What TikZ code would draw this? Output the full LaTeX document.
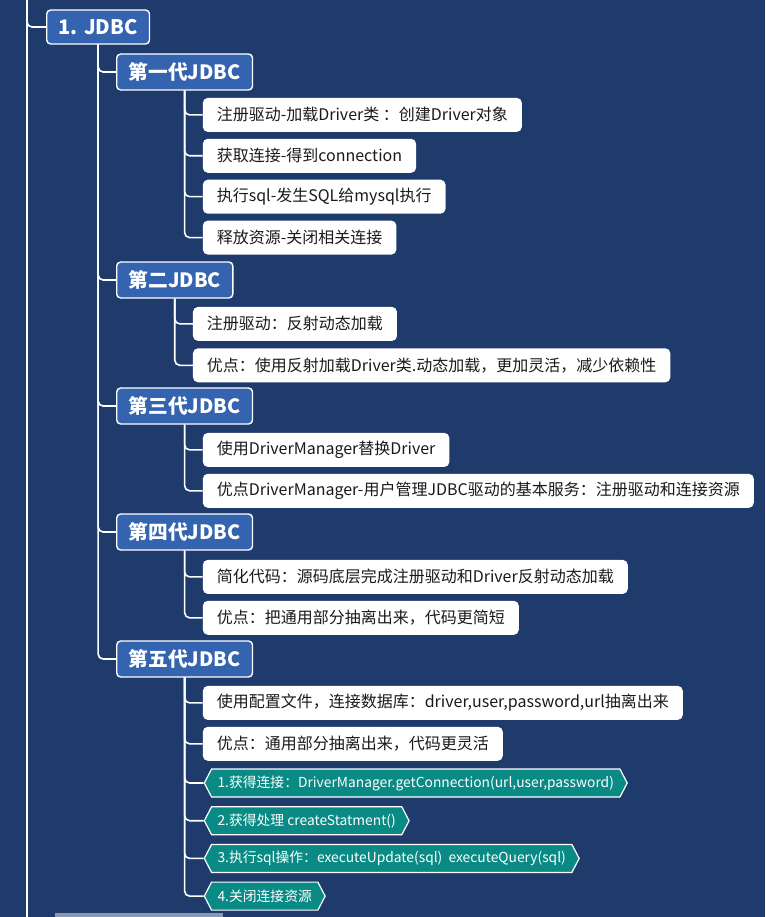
\documentclass[tikz,border=0pt]{standalone}
\usepackage{fontspec}
\setmainfont{Noto Sans CJK SC}
\usetikzlibrary{positioning,calc,shapes.symbols}
\definecolor{cBg}{HTML}{1F3B6C}
\definecolor{cGen}{HTML}{3464AF}
\definecolor{cStep}{HTML}{0A8A84}
\definecolor{cInk}{HTML}{1A1A1A}
\definecolor{cStrip}{HTML}{8A9AB4}

\begin{document}
\begin{tikzpicture}[x=1pt,y=1pt,
    rootbox/.style={draw=white,line width=1.4pt,fill=cGen,rounded corners=4pt,text=white,
      font=\fontsize{20}{24}\selectfont\bfseries,minimum height=34pt,inner xsep=12pt,inner ysep=0pt},
    genbox/.style={rootbox,font=\fontsize{19.7}{23}\selectfont\bfseries,minimum height=36pt},
    leafbox/.style={fill=white,rounded corners=5pt,text=cInk,font=\fontsize{16}{19}\selectfont,
      minimum height=34pt,inner xsep=14pt,inner ysep=0pt},
    stepbox/.style={signal,signal to=west and east,signal pointer angle=125,draw=white,
      line width=1.2pt,fill=cStep,text=white,font=\fontsize{13.8}{16}\selectfont,
      minimum height=28pt,inner xsep=6pt,inner ysep=0pt},
    link/.style={draw=white,line width=1.6pt,rounded corners=5pt},
    node distance=6.5pt]
  \fill[cBg] (0,0) rectangle (765,-917);
  \useasboundingbox (0,0) rectangle (765,-917);
  \coordinate (trunk) at (27,0);
  \coordinate (trunkend) at (27,-917);
  \draw[white,line width=1.6pt] (trunk) -- (trunkend);
  \fill[cStrip] (55,-913) rectangle (223,-917);

  % root and generations
  \node[rootbox,anchor=west] (jdbc) at (46,-27) {1. JDBC};
  \node[genbox,anchor=west] (g1) at (116,-72) {第一代JDBC};
  \node[genbox,anchor=west] (g2) at (116,-280) {第二JDBC};
  \node[genbox,anchor=west] (g3) at (116,-406) {第三代JDBC};
  \node[genbox,anchor=west] (g4) at (116,-532) {第四代JDBC};
  \node[genbox,anchor=west] (g5) at (116,-659) {第五代JDBC};

  % first generation
  \node[leafbox,anchor=north west] (a1) at ($(g1.south)+(18,-7)$) {注册驱动-加载Driver类 ：创建Driver对象};
  \node[leafbox,below=6.5pt of a1.south west,anchor=north west] (a2) {获取连接-得到connection};
  \node[leafbox,below=6.5pt of a2.south west,anchor=north west] (a3) {执行sql-发生SQL给mysql执行};
  \node[leafbox,below=6.5pt of a3.south west,anchor=north west] (a4) {释放资源-关闭相关连接};

  % second generation
  \node[leafbox,anchor=north west] (b1) at ($(g2.south)+(18,-8)$) {注册驱动：反射动态加载};
  \node[leafbox,below=7pt of b1.south west,anchor=north west] (b2) {优点：使用反射加载Driver类.动态加载，更加灵活，减少依赖性};

  % third generation
  \node[leafbox,anchor=north west] (c1) at ($(g3.south)+(18,-8)$) {使用DriverManager替换Driver};
  \node[leafbox,below=6.5pt of c1.south west,anchor=north west] (c2) {优点DriverManager-用户管理JDBC驱动的基本服务：注册驱动和连接资源};

  % fourth generation
  \node[leafbox,anchor=north west] (d1) at ($(g4.south)+(18,-9)$) {简化代码：源码底层完成注册驱动和Driver反射动态加载};
  \node[leafbox,below=6.5pt of d1.south west,anchor=north west] (d2) {优点：把通用部分抽离出来，代码更简短};

  % fifth generation
  \node[leafbox,anchor=north west] (e1) at ($(g5.south)+(18,-8)$) {使用配置文件，连接数据库：driver,user,password,url抽离出来};
  \node[leafbox,below=6.5pt of e1.south west,anchor=north west] (e2) {优点：通用部分抽离出来，代码更灵活};
  \node[stepbox,anchor=west] (s1) at ($(e2.south west)+(1,-22)$) {1.获得连接：DriverManager.getConnection(url,user,password)};
  \node[stepbox,anchor=west] (s2) at ($(s1.west)+(0,-37.7)$) {2.获得处理 createStatment()};
  \node[stepbox,anchor=west] (s3) at ($(s2.west)+(0,-37.7)$) {3.执行sql操作：executeUpdate(sql)\ \ executeQuery(sql)};
  \node[stepbox,anchor=west] (s4) at ($(s3.west)+(0,-37.7)$) {4.关闭连接资源};

  % connectors
  \draw[link] (trunk) |- (jdbc.west);
  \foreach \p/\c in {jdbc/g1,jdbc/g2,jdbc/g3,jdbc/g4,jdbc/g5,
                     g1/a1,g1/a2,g1/a3,g1/a4,g2/b1,g2/b2,g3/c1,g3/c2,
                     g4/d1,g4/d2,g5/e1,g5/e2,g5/s1,g5/s2,g5/s3,g5/s4}
    \draw[link] (\p.south) |- (\c.west);
\end{tikzpicture}
\end{document}
